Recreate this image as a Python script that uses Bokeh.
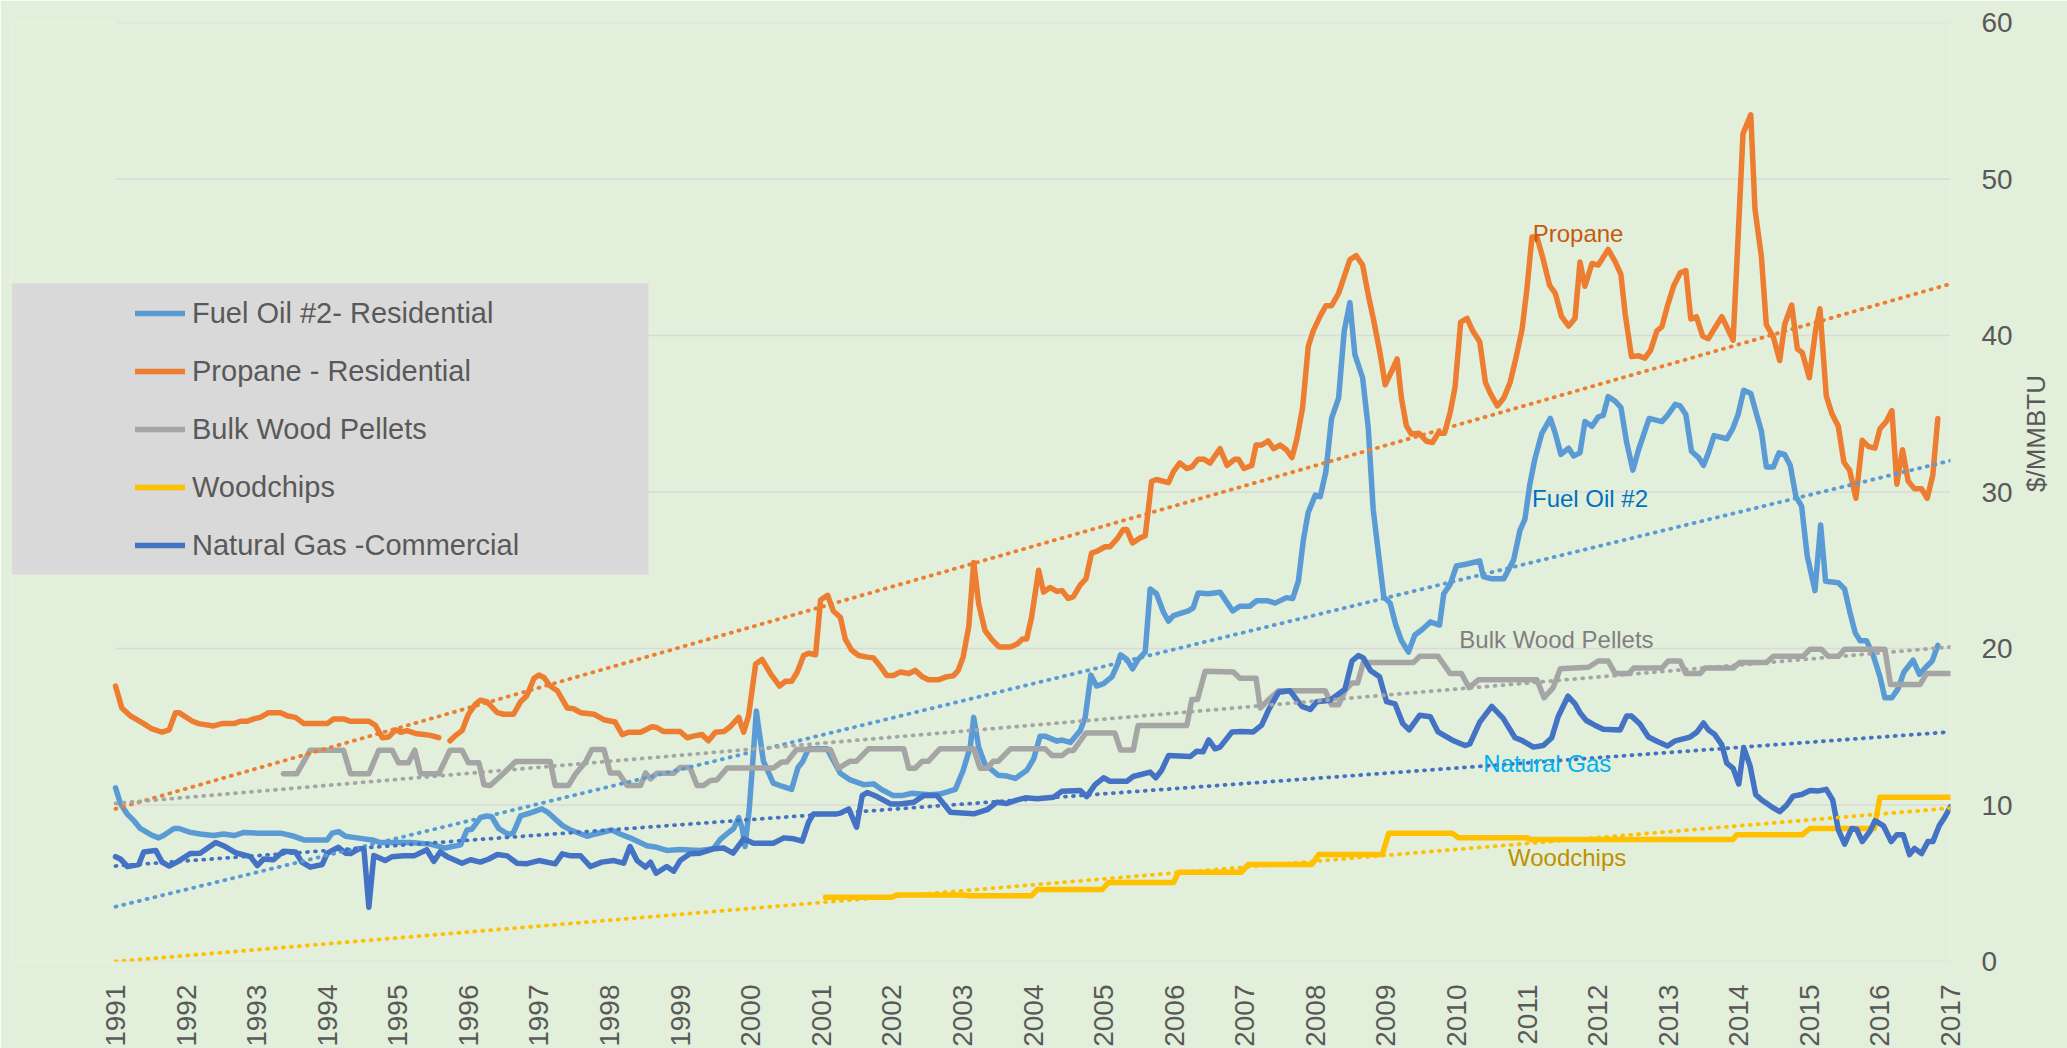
import math
from bokeh.plotting import figure
from bokeh.models import (Legend, LegendItem, FixedTicker, NumeralTickFormatter, Label,
                          BoxAnnotation, Range1d)
from bokeh.embed import file_html
from bokeh.resources import INLINE

nan = float("nan")

# ---------------- data (decimal year, $/MMBTU) ----------------
fuel_oil = [
    (1991.00, 11.1), (1991.07, 10.1), (1991.17, 9.4), (1991.26, 9.0), (1991.35, 8.5), (1991.50, 8.1),
    (1991.61, 7.9), (1991.68, 8.05), (1991.83, 8.5), (1991.90, 8.5), (1992.06, 8.25), (1992.20, 8.15),
    (1992.39, 8.05), (1992.53, 8.15), (1992.68, 8.05), (1992.82, 8.25), (1993.01, 8.2), (1993.34, 8.2),
    (1993.53, 8.0), (1993.67, 7.77), (1994.00, 7.77), (1994.07, 8.2), (1994.16, 8.3), (1994.26, 8.0),
    (1994.42, 7.9), (1994.66, 7.75), (1994.75, 7.6), (1995.18, 7.6), (1995.46, 7.5), (1995.67, 7.25),
    (1995.89, 7.45), (1995.98, 8.4), (1996.05, 8.45),
    (1996.17, 9.2), (1996.26, 9.3), (1996.33, 9.25), (1996.43, 8.5), (1996.57, 8.1), (1996.64, 8.25),
    (1996.74, 9.3), (1996.88, 9.5), (1997.04, 9.75), (1997.12, 9.55), (1997.33, 8.7), (1997.45, 8.4),
    (1997.68, 8.0), (1997.80, 8.15), (1998.03, 8.4), (1998.15, 8.15), (1998.29, 7.9), (1998.53, 7.4),
    (1998.67, 7.3), (1998.81, 7.1), (1999.00, 7.15), (1999.28, 7.1), (1999.47, 7.2), (1999.57, 7.8),
    (1999.69, 8.26), (1999.76, 8.5), (1999.83, 9.2), (1999.88, 8.5), (1999.92, 7.35), (1999.98, 9.75),
    (2000.03, 12.8), (2000.08, 16.0), (2000.11, 15.0), (2000.18, 12.8), (2000.32, 11.4), (2000.44, 11.2),
    (2000.58, 11.0), (2000.67, 12.4), (2000.74, 12.8), (2000.82, 13.6), (2001.08, 13.6),
    (2001.27, 12.03), (2001.41, 11.6), (2001.60, 11.3), (2001.74, 11.35), (2001.86, 10.97), (2002.02, 10.6),
    (2002.14, 10.6), (2002.29, 10.75), (2002.40, 10.7), (2002.54, 10.65), (2002.68, 10.7), (2002.90, 11.0),
    (2003.01, 12.2), (2003.11, 13.7), (2003.16, 15.6), (2003.23, 13.7), (2003.32, 12.6), (2003.51, 11.9),
    (2003.63, 11.85), (2003.75, 11.7), (2003.91, 12.2), (2004.01, 12.95), (2004.10, 14.4), (2004.17, 14.4),
    (2004.34, 14.08), (2004.41, 14.15), (2004.53, 14.0), (2004.67, 14.76), (2004.74, 15.6), (2004.82, 18.3),
    (2004.90, 17.6), (2005.00, 17.75), (2005.12, 18.2), (2005.19, 18.9), (2005.24, 19.6), (2005.33, 19.3),
    (2005.41, 18.7), (2005.49, 19.3), (2005.59, 19.77), (2005.66, 23.8), (2005.75, 23.5), (2005.85, 22.3),
    (2005.92, 21.75), (2005.99, 22.1), (2006.20, 22.4), (2006.27, 22.6), (2006.34, 23.55), (2006.49, 23.5),
    (2006.65, 23.6), (2006.83, 22.4), (2006.93, 22.7), (2007.07, 22.7), (2007.17, 23.05), (2007.33, 23.05),
    (2007.43, 22.9), (2007.59, 23.25), (2007.68, 23.2), (2007.76, 24.3), (2007.83, 26.9), (2007.90, 28.7),
    (2008.00, 29.8), (2008.07, 29.7), (2008.15, 31.3), (2008.23, 34.7), (2008.33, 36.0), (2008.41, 40.3),
    (2008.49, 42.1), (2008.56, 38.8), (2008.67, 37.3), (2008.75, 34.1), (2008.82, 28.9), (2008.89, 26.25),
    (2008.97, 23.3), (2009.06, 22.9), (2009.14, 21.5), (2009.22, 20.5), (2009.32, 19.77), (2009.41, 20.86),
    (2009.51, 21.2), (2009.63, 21.7), (2009.76, 21.5), (2009.82, 23.5), (2009.91, 24.1), (2010.00, 25.27),
    (2010.15, 25.4), (2010.33, 25.6), (2010.38, 24.6), (2010.50, 24.45), (2010.67, 24.45), (2010.81, 25.66),
    (2010.90, 27.55), (2010.97, 28.27), (2011.04, 30.5), (2011.11, 32.1), (2011.21, 33.75), (2011.33, 34.7),
    (2011.40, 33.75), (2011.48, 32.4), (2011.59, 32.8), (2011.66, 32.3),
    (2011.75, 32.5), (2011.82, 34.5), (2011.92, 34.2), (2012.01, 34.8), (2012.08, 34.9), (2012.15, 36.1),
    (2012.25, 35.8), (2012.33, 35.4), (2012.41, 33.2), (2012.50, 31.4), (2012.58, 32.7), (2012.73, 34.7),
    (2012.91, 34.5), (2012.99, 34.9), (2013.10, 35.6), (2013.17, 35.5), (2013.25, 34.95), (2013.33, 32.6),
    (2013.43, 32.2), (2013.50, 31.7), (2013.57, 32.5), (2013.65, 33.6), (2013.83, 33.4), (2013.91, 34.0),
    (2013.99, 34.95), (2014.07, 36.5), (2014.17, 36.3), (2014.25, 35.0), (2014.32, 33.9), (2014.39, 31.6),
    (2014.49, 31.6), (2014.57, 32.5), (2014.65, 32.4), (2014.73, 31.7), (2014.81, 29.7), (2014.89, 29.1),
    (2014.97, 25.9), (2015.08, 23.7), (2015.16, 27.9), (2015.23, 24.3), (2015.41, 24.2), (2015.50, 23.8),
    (2015.57, 22.4), (2015.65, 21.0), (2015.72, 20.5), (2015.81, 20.5), (2015.91, 19.5), (2016.00, 18.2),
    (2016.07, 16.85), (2016.17, 16.85), (2016.26, 17.45), (2016.34, 18.5), (2016.47, 19.25), (2016.56, 18.35),
    (2016.66, 18.85), (2016.74, 19.2), (2016.82, 20.2),
]

propane = [
    (1991.00, 17.6), (1991.09, 16.2), (1991.21, 15.7), (1991.40, 15.2), (1991.50, 14.9), (1991.66, 14.65),
    (1991.76, 14.8), (1991.85, 15.9), (1991.90, 15.9), (1992.09, 15.35), (1992.18, 15.2), (1992.39, 15.05),
    (1992.51, 15.2), (1992.68, 15.2), (1992.77, 15.35), (1992.86, 15.35), (1992.96, 15.5), (1993.05, 15.6),
    (1993.17, 15.9), (1993.34, 15.9), (1993.43, 15.7), (1993.55, 15.6), (1993.67, 15.2), (1994.00, 15.2),
    (1994.09, 15.5), (1994.23, 15.5), (1994.33, 15.35), (1994.59, 15.35), (1994.68, 15.1), (1994.78, 14.3),
    (1994.87, 14.35), (1994.97, 14.8), (1995.04, 14.65), (1995.13, 14.75), (1995.27, 14.55), (1995.37, 14.5),
    (1995.46, 14.45), (1995.58, 14.3), (1995.66, nan), (1995.74, 14.1), (1995.82, 14.45), (1995.91, 14.75),
    (1996.00, 15.8), (1996.10, 16.45),
    (1996.17, 16.7), (1996.26, 16.6), (1996.41, 15.9), (1996.50, 15.8), (1996.64, 15.8), (1996.74, 16.6),
    (1996.83, 17.0), (1996.93, 18.1), (1997.00, 18.3), (1997.07, 18.15), (1997.16, 17.6), (1997.26, 17.3),
    (1997.40, 16.2), (1997.49, 16.15), (1997.59, 15.9), (1997.78, 15.8), (1997.92, 15.45), (1998.08, 15.3),
    (1998.18, 14.5), (1998.27, 14.65), (1998.44, 14.65), (1998.60, 15.0), (1998.67, 14.95), (1998.76, 14.7),
    (1999.00, 14.7), (1999.10, 14.3), (1999.19, 14.4), (1999.31, 14.5), (1999.40, 14.1), (1999.50, 14.65),
    (1999.62, 14.7), (1999.71, 15.0), (1999.83, 15.6), (1999.90, 14.65), (1999.97, 15.7), (2000.07, 19.0),
    (2000.16, 19.3), (2000.28, 18.4), (2000.41, 17.6), (2000.49, 17.9), (2000.58, 17.9), (2000.66, 18.5),
    (2000.75, 19.55), (2000.82, 19.7), (2000.92, 19.6), (2000.99, 23.1), (2001.09, 23.4), (2001.17, 22.4),
    (2001.27, 22.0), (2001.34, 20.6), (2001.43, 19.9), (2001.53, 19.55), (2001.65, 19.45), (2001.74, 19.4),
    (2001.83, 18.9), (2001.93, 18.27), (2002.02, 18.27), (2002.12, 18.5), (2002.24, 18.4), (2002.33, 18.6),
    (2002.43, 18.2), (2002.52, 18.0), (2002.66, 18.0), (2002.78, 18.2), (2002.87, 18.25), (2002.94, 18.6),
    (2003.01, 19.45), (2003.09, 21.4), (2003.16, 25.5), (2003.23, 22.85), (2003.32, 21.15), (2003.42, 20.55),
    (2003.52, 20.1), (2003.68, 20.1), (2003.78, 20.3), (2003.85, 20.6), (2003.91, 20.6), (2003.98, 22.0),
    (2004.08, 25.0), (2004.15, 23.6), (2004.24, 23.9), (2004.34, 23.65), (2004.41, 23.7), (2004.50, 23.2),
    (2004.57, 23.3), (2004.67, 24.07), (2004.75, 24.45), (2004.83, 26.1), (2004.90, 26.2), (2005.02, 26.5),
    (2005.09, 26.5), (2005.19, 27.0), (2005.28, 27.6), (2005.33, 27.6), (2005.41, 26.75), (2005.52, 27.07),
    (2005.59, 27.2), (2005.68, 30.67), (2005.75, 30.8), (2005.92, 30.6), (2005.99, 31.3), (2006.08, 31.86),
    (2006.18, 31.5), (2006.25, 31.6), (2006.34, 32.1), (2006.42, 32.1), (2006.51, 31.85),
    (2006.65, 32.77), (2006.75, 31.7), (2006.86, 32.1), (2006.91, 32.1), (2006.99, 31.5), (2007.10, 31.7),
    (2007.16, 33.0), (2007.24, 33.0), (2007.33, 33.26), (2007.41, 32.77), (2007.50, 33.0), (2007.59, 32.7),
    (2007.67, 32.2), (2007.74, 33.4), (2007.82, 35.4), (2007.90, 39.3), (2007.97, 40.3), (2008.07, 41.25),
    (2008.15, 41.9), (2008.23, 41.9), (2008.33, 42.7), (2008.42, 43.9), (2008.49, 44.85), (2008.58, 45.1),
    (2008.67, 44.5), (2008.75, 42.6), (2008.83, 40.9), (2008.92, 38.8), (2008.99, 36.85), (2009.08, 37.7),
    (2009.16, 38.5), (2009.22, 36.0), (2009.29, 34.24), (2009.36, 33.7), (2009.47, 33.75), (2009.57, 33.26),
    (2009.66, 33.16), (2009.74, 33.75), (2009.83, 33.75), (2009.91, 35.06), (2009.98, 36.7), (2010.06, 40.86),
    (2010.15, 41.1), (2010.23, 40.3), (2010.33, 39.6), (2010.41, 37.0), (2010.48, 36.3), (2010.58, 35.5),
    (2010.67, 36.0), (2010.76, 37.0), (2010.84, 38.5), (2010.93, 40.4), (2011.00, 43.05), (2011.07, 46.3),
    (2011.14, 46.3), (2011.23, 44.85), (2011.32, 43.2), (2011.40, 42.7), (2011.49, 41.2), (2011.59, 40.6),
    (2011.68, 41.1),
    (2011.75, 44.7), (2011.82, 43.15), (2011.92, 44.6), (2012.01, 44.5), (2012.15, 45.5), (2012.25, 44.7),
    (2012.33, 43.9), (2012.39, 41.4), (2012.48, 38.65), (2012.58, 38.7), (2012.67, 38.55), (2012.75, 39.05),
    (2012.84, 40.3), (2012.91, 40.55), (2012.99, 41.9), (2013.08, 43.2), (2013.17, 44.0), (2013.25, 44.15),
    (2013.32, 41.05), (2013.40, 41.2), (2013.49, 39.95), (2013.57, 39.8), (2013.65, 40.4), (2013.76, 41.2),
    (2013.83, 40.55), (2013.92, 39.7), (2013.99, 46.2), (2014.06, 52.9), (2014.17, 54.1), (2014.23, 48.06),
    (2014.32, 45.06), (2014.39, 40.7), (2014.49, 39.9), (2014.58, 38.4), (2014.65, 40.7), (2014.75, 41.95),
    (2014.83, 39.15), (2014.90, 38.9), (2015.00, 37.3), (2015.09, 40.4), (2015.15, 41.7), (2015.24, 36.14),
    (2015.32, 35.0), (2015.41, 34.2), (2015.49, 31.9), (2015.57, 31.4), (2015.66, 29.6), (2015.75, 33.3),
    (2015.84, 32.9), (2015.93, 32.8), (2016.00, 34.04), (2016.09, 34.5), (2016.17, 35.2), (2016.24, 30.5),
    (2016.32, 32.7), (2016.40, 30.7), (2016.49, 30.2), (2016.59, 30.2), (2016.67, 29.6), (2016.75, 31.1),
    (2016.82, 34.7),
]

wood_pellets = [
    (1993.38, 12.0), (1993.57, 12.0), (1993.76, 13.5), (1994.23, 13.5), (1994.33, 12.0), (1994.59, 12.0),
    (1994.73, 13.5), (1994.92, 13.5), (1995.01, 12.7), (1995.15, 12.7), (1995.24, 13.5), (1995.32, 12.0),
    (1995.58, 12.0), (1995.74, 13.5), (1995.91, 13.5), (1996.00, 12.7), (1996.15, 12.7),
    (1996.22, 11.3), (1996.31, 11.25), (1996.50, 12.03), (1996.67, 12.78), (1997.16, 12.78), (1997.23, 11.25),
    (1997.42, 11.25), (1997.52, 12.0), (1997.66, 12.75), (1997.75, 13.55), (1997.92, 13.55), (1998.01, 12.05),
    (1998.13, 12.05), (1998.25, 11.25), (1998.44, 11.25), (1998.51, 12.05), (1998.58, 11.67), (1998.67, 12.03),
    (1998.91, 12.03), (1999.00, 12.4), (1999.14, 12.4), (1999.24, 11.25), (1999.33, 11.25), (1999.43, 11.57),
    (1999.52, 11.6), (1999.67, 12.37), (2000.32, 12.37), (2000.44, 12.74), (2000.51, 12.74), (2000.65, 13.55),
    (2001.13, 13.55), (2001.24, 12.37),
    (2001.27, 12.42), (2001.41, 12.8), (2001.50, 12.8), (2001.67, 13.59), (2002.17, 13.59), (2002.24, 12.35),
    (2002.33, 12.35), (2002.43, 12.8), (2002.52, 12.8), (2002.68, 13.59), (2003.16, 13.59), (2003.25, 12.35),
    (2003.35, 12.35), (2003.44, 12.8), (2003.51, 12.8), (2003.68, 13.59), (2004.17, 13.59), (2004.27, 13.16),
    (2004.41, 13.16), (2004.50, 13.48), (2004.57, 13.48), (2004.75, 14.6), (2005.16, 14.6), (2005.24, 13.52),
    (2005.42, 13.52), (2005.49, 15.08), (2006.18, 15.08), (2006.25, 16.74), (2006.33, 16.74), (2006.44, 18.55),
    (2006.84, 18.5), (2006.93, 18.1), (2007.16, 18.1), (2007.22, 16.2), (2007.33, 16.7), (2007.48, 17.3),
    (2008.14, 17.3), (2008.23, 16.4), (2008.33, 16.4), (2008.42, 17.3), (2008.52, 17.8), (2008.60, 17.8),
    (2008.68, 19.1), (2009.39, 19.1), (2009.48, 19.5), (2009.74, 19.5), (2009.91, 18.4), (2010.07, 18.4),
    (2010.18, 17.5), (2010.31, 18.0), (2011.14, 18.0), (2011.24, 16.85), (2011.37, 17.5), (2011.47, 18.7),
    (2011.87, 18.8), (2012.01, 19.2), (2012.15, 19.2), (2012.25, 18.4), (2012.44, 18.4), (2012.51, 18.75),
    (2012.91, 18.75), (2013.00, 19.2), (2013.17, 19.2), (2013.25, 18.4), (2013.45, 18.4), (2013.52, 18.75),
    (2013.92, 18.75), (2014.01, 19.1), (2014.39, 19.1), (2014.49, 19.5), (2014.91, 19.5), (2015.01, 19.95),
    (2015.17, 19.95), (2015.27, 19.5), (2015.41, 19.5), (2015.50, 19.95), (2016.07, 19.95), (2016.15, 17.7),
    (2016.57, 17.7), (2016.66, 18.4), (2017.00, 18.4),
]

woodchips = [
    (2001.06, 4.1), (2002.00, 4.1), (2002.07, 4.25), (2003.02, 4.25), (2003.10, 4.2), (2003.98, 4.2),
    (2004.06, 4.6), (2004.98, 4.6), (2005.07, 5.05), (2005.99, 5.05), (2006.06, 5.7), (2006.95, 5.7),
    (2007.05, 6.2), (2007.95, 6.2), (2008.05, 6.84), (2008.95, 6.84), (2009.04, 8.2), (2009.94, 8.2),
    (2010.03, 7.9), (2011.00, 7.9), (2011.05, 7.8), (2013.92, 7.8), (2013.97, 8.1), (2014.90, 8.1),
    (2015.01, 8.5), (2015.92, 8.5), (2016.00, 10.5), (2017.00, 10.5),
]

natural_gas = [
    (1991.00, 6.7), (1991.07, 6.55), (1991.17, 6.07), (1991.33, 6.2), (1991.40, 7.0), (1991.57, 7.1),
    (1991.66, 6.35), (1991.76, 6.1), (1991.87, 6.35), (1992.06, 6.9), (1992.20, 6.92), (1992.42, 7.6),
    (1992.53, 7.4), (1992.70, 6.95), (1992.91, 6.7), (1993.01, 6.13), (1993.10, 6.55), (1993.24, 6.5),
    (1993.38, 7.05), (1993.55, 7.0), (1993.64, 6.35), (1993.76, 6.03), (1993.93, 6.2), (1994.00, 6.92),
    (1994.16, 7.3), (1994.26, 6.92), (1994.33, 6.9), (1994.45, 7.2), (1994.52, 7.2), (1994.59, 3.47),
    (1994.66, 6.77), (1994.82, 6.45), (1994.92, 6.7), (1995.08, 6.75), (1995.23, 6.75), (1995.41, 7.14),
    (1995.51, 6.4), (1995.60, 7.0), (1995.70, 6.7), (1995.91, 6.28), (1996.03, 6.5),
    (1996.17, 6.35), (1996.29, 6.55), (1996.41, 6.84), (1996.55, 6.75), (1996.69, 6.28), (1996.83, 6.25),
    (1997.00, 6.45), (1997.23, 6.24), (1997.33, 6.88), (1997.45, 6.75), (1997.59, 6.75), (1997.73, 6.07),
    (1997.89, 6.35), (1998.06, 6.45), (1998.20, 6.28), (1998.29, 7.35), (1998.39, 6.45), (1998.51, 6.03),
    (1998.58, 6.35), (1998.66, 5.64), (1998.81, 6.07), (1998.91, 5.77), (1999.00, 6.45), (1999.14, 6.88),
    (1999.28, 6.92), (1999.47, 7.2), (1999.62, 7.25), (1999.75, 6.92), (1999.90, 7.84), (2000.04, 7.56),
    (2000.32, 7.56), (2000.47, 7.9), (2000.61, 7.84), (2000.73, 7.69), (2000.82, 8.9), (2000.89, 9.43),
    (2001.22, 9.43),
    (2001.27, 9.48), (2001.39, 9.75), (2001.50, 8.58), (2001.58, 10.6), (2001.65, 10.8), (2001.79, 10.54),
    (2001.98, 10.07), (2002.12, 10.07), (2002.31, 10.18), (2002.45, 10.6), (2002.64, 10.6), (2002.83, 9.54),
    (2003.16, 9.44), (2003.35, 9.7), (2003.49, 10.18), (2003.63, 10.1), (2003.78, 10.33), (2003.89, 10.46),
    (2004.06, 10.4), (2004.29, 10.5), (2004.41, 10.88), (2004.67, 10.93), (2004.76, 10.54), (2004.88, 11.3),
    (2005.00, 11.74), (2005.09, 11.52), (2005.33, 11.52), (2005.42, 11.82), (2005.66, 12.1), (2005.74, 11.74),
    (2005.82, 12.2), (2005.92, 13.16), (2006.23, 13.1), (2006.32, 13.44), (2006.41, 13.4), (2006.49, 14.16),
    (2006.58, 13.59),
    (2006.65, 13.7), (2006.82, 14.67), (2006.96, 14.7), (2007.12, 14.67), (2007.24, 15.1), (2007.34, 16.1),
    (2007.48, 17.2), (2007.64, 17.3), (2007.81, 16.3), (2007.93, 16.1), (2008.02, 16.6), (2008.21, 16.7),
    (2008.42, 17.4), (2008.52, 19.2), (2008.61, 19.55), (2008.68, 19.4), (2008.78, 18.6), (2008.91, 18.2),
    (2009.01, 16.6), (2009.13, 16.46), (2009.24, 15.2), (2009.33, 14.8), (2009.48, 15.74), (2009.63, 15.64),
    (2009.74, 14.67), (2009.96, 14.1), (2010.12, 13.8), (2010.19, 13.9), (2010.33, 15.3), (2010.50, 16.3),
    (2010.66, 15.55), (2010.83, 14.3), (2010.92, 14.15), (2011.09, 13.7), (2011.23, 13.8), (2011.35, 14.3),
    (2011.44, 15.64), (2011.58, 16.95), (2011.68, 16.46),
    (2011.75, 15.9), (2011.84, 15.4), (2011.96, 15.1), (2012.08, 14.84), (2012.32, 14.8), (2012.41, 15.68),
    (2012.48, 15.68), (2012.60, 15.18), (2012.72, 14.34), (2012.84, 14.07), (2012.99, 13.77), (2013.10, 14.1),
    (2013.31, 14.34), (2013.41, 14.67), (2013.50, 15.24), (2013.57, 14.8), (2013.66, 14.5), (2013.76, 13.84),
    (2013.83, 12.67), (2013.92, 12.34), (2014.00, 11.34), (2014.07, 13.67), (2014.16, 12.5), (2014.24, 10.67),
    (2014.32, 10.33), (2014.46, 9.9), (2014.58, 9.57), (2014.68, 10.0), (2014.77, 10.57), (2014.89, 10.67),
    (2015.01, 10.93), (2015.13, 10.9), (2015.24, 11.0), (2015.33, 10.33), (2015.41, 8.43), (2015.50, 7.5),
    (2015.60, 8.5), (2015.67, 8.45), (2015.75, 7.66), (2015.86, 8.33), (2015.93, 9.0), (2016.05, 8.67),
    (2016.16, 7.66), (2016.24, 8.1), (2016.33, 8.1), (2016.42, 6.83), (2016.49, 7.23), (2016.59, 6.9),
    (2016.68, 7.66), (2016.75, 7.66), (2016.84, 8.67), (2016.92, 9.23), (2017.00, 9.9),
]

series_names = ["Fuel Oil #2- Residential", "Propane - Residential", "Bulk Wood Pellets",
                "Woodchips", "Natural Gas -Commercial"]
series_data = [fuel_oil, propane, wood_pellets, woodchips, natural_gas]

# linear trend lines (value at 1991 and at 2017, as drawn)
trend_years = [1991, 2017]
trend_start = [3.5, 9.75, 10.1, 0.0, 6.1]
trend_end = [32.0, 43.3, 20.1, 9.8, 14.67]

year_ticks = list(range(1991, 2018))
value_ticks = [0, 10, 20, 30, 40, 50, 60]

# ---------------- styling ----------------
BG = "#E2EFDA"
COLORS = ["#5B9BD5", "#ED7D31", "#A5A5A5", "#FFC000", "#4472C4"]
TXT = "#595959"
FONT = "Liberation Sans"

# frame starts left of 1991 so the legend panel (which overhangs the data area) can be drawn
PX_PER_YEAR = 1835 / 26.0
X_START = 1991 - 104 / PX_PER_YEAR

p = figure(frame_width=1939, frame_height=939,
           x_range=Range1d(X_START, 2017), y_range=Range1d(0, 60),
           y_axis_location="right", output_backend="svg", toolbar_location=None,
           min_border_left=11, min_border_top=22, min_border_right=5, min_border_bottom=5,
           background_fill_color=BG, border_fill_color=BG, outline_line_color=None)

p.xgrid.visible = False
p.ygrid.visible = False
# horizontal gridlines spanning the category range 1991-2017
p.segment(x0=year_ticks[0], x1=year_ticks[-1], y0=value_ticks, y1=value_ticks,
          line_color="#D9D9D9", line_width=1.6)

xa = p.xaxis[0]
xa.ticker = FixedTicker(ticks=year_ticks)
xa.formatter = NumeralTickFormatter(format="0")
xa.major_label_orientation = math.pi / 2
xa.major_label_text_font = FONT
xa.major_label_text_font_size = "28px"
xa.major_label_text_color = TXT
xa.major_label_standoff = 23
xa.major_tick_line_color = None
xa.minor_tick_line_color = None
xa.major_tick_out = 0
xa.minor_tick_out = 0
xa.axis_line_color = None

ya = p.yaxis[0]
ya.ticker = FixedTicker(ticks=value_ticks)
ya.major_label_text_font = FONT
ya.major_label_text_font_size = "28px"
ya.major_label_text_color = TXT
ya.major_label_standoff = 31
ya.major_tick_line_color = None
ya.minor_tick_line_color = None
ya.major_tick_out = 0
ya.minor_tick_out = 0
ya.axis_line_color = None
ya.axis_label = "$/MMBTU"
ya.axis_label_orientation = math.pi / 2
ya.axis_label_text_font = FONT
ya.axis_label_text_font_size = "26px"
ya.axis_label_text_font_style = "normal"
ya.axis_label_text_color = TXT
ya.axis_label_standoff = 20

renderers = []
for data, color in zip(series_data, COLORS):
    xs = [d[0] for d in data]
    ys = [d[1] for d in data]
    r = p.line(xs, ys, line_color=color, line_width=5.5, line_join="round", line_cap="round")
    renderers.append(r)

for s, e, color in zip(trend_start, trend_end, COLORS):
    p.line(trend_years, [s, e], line_color=color, line_width=3.8, line_dash="1 7", line_cap="round")

# in-plot series labels
plot_labels = [
    ("Propane", 2011.08, 46.5, "#C55A11"),
    ("Fuel Oil #2", 2011.07, 29.6, "#0070C0"),
    ("Bulk Wood Pellets", 2010.04, 20.6, "#7F7F7F"),
    ("Natural Gas", 2010.38, 12.65, "#00B0F0"),
    ("Woodchips", 2010.73, 6.65, "#BF9000"),
]
for txt, lx, ly, col in plot_labels:
    p.add_layout(Label(x=lx, y=ly, text=txt, text_font=FONT, text_font_size="24px",
                       text_color=col, text_align="left", text_baseline="middle"))

# legend panel background
p.add_layout(BoxAnnotation(left=11, right=648, top=283, bottom=574,
                           left_units="canvas", right_units="canvas",
                           top_units="canvas", bottom_units="canvas",
                           fill_color="#D9D9D9", fill_alpha=1.0, line_color=None))

legend = Legend(items=[LegendItem(label=n, renderers=[r]) for n, r in zip(series_names, renderers)],
                location=(124, 397), padding=10, spacing=20, margin=0,
                glyph_width=50, glyph_height=38, label_height=38, label_width=420,
                label_standoff=7, label_text_font=FONT, label_text_font_size="29px",
                label_text_color=TXT, label_text_baseline="middle",
                background_fill_alpha=0.0, border_line_color=None)
p.add_layout(legend)

html = file_html(p, INLINE, title="Fuel prices")
html = html.replace("<body>", '<body style="background-color:#E2EFDA;">', 1)
open("out.html", "w").write(html)
